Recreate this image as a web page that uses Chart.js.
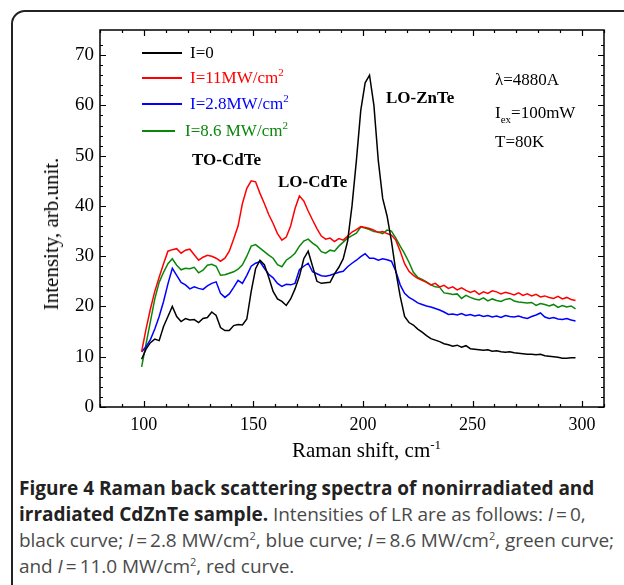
<!DOCTYPE html>
<html>
<head>
<meta charset="utf-8">
<script src="https://cdn.jsdelivr.net/npm/chart.js@4.4.0/dist/chart.umd.min.js"></script>
<style>
  body { margin: 0; background: #fff; width: 624px; height: 585px; overflow: hidden; position: relative; }
  #box { position: absolute; left: 11px; top: 10px; width: 700px; height: 700px; border: 2px solid #222; border-radius: 14px; }
  #wrap { position: absolute; left: 0; top: 0; width: 624px; height: 470px; }
  .t { position: absolute; font-family: "Liberation Serif", serif; font-size: 17px; line-height: 17px; white-space: nowrap; }
  .t sup, .t sub { font-size: 11px; line-height: 0; }
  .t sub { vertical-align: -5px; }
  .b { font-weight: bold; }
  .leg { position: absolute; height: 0; border-top: 2px solid; }
  #ytitle { position: absolute; left: 62px; top: 234px; transform-origin: 0 0; transform: rotate(-90deg) translate(-50%, -100%);
    font-family: "Liberation Serif", serif; font-size: 21px; line-height: 21px; white-space: nowrap; }
  #xtitle { position: absolute; left: 292px; top: 440px; font-family: "Liberation Serif", serif; font-size: 21px; line-height: 21px; white-space: nowrap; }
  #xtitle sup { font-size: 13px; line-height: 0; }
  #caption { position: absolute; left: 19px; top: 475px; font-family: "Open Sans", sans-serif; font-size: 19px;
    line-height: 26px; color: #4a4a4a; white-space: nowrap; letter-spacing: -0.05px; }
  #caption b { color: #222; letter-spacing: 0; }
  #caption sup { font-size: 11px; line-height: 0; }
</style>
</head>
<body>
<div id="box"></div>
<div id="wrap"><canvas id="chart" width="624" height="470"></canvas></div>

<div class="leg" style="left:142px; top:52px; width:40px; border-color:#000"></div>
<div class="t" style="left:190px; top:44px; color:#000">I=0</div>
<div class="leg" style="left:142px; top:77px; width:40px; border-color:#f00"></div>
<div class="t" style="left:190px; top:69px; color:#f00">I=11MW/cm<sup>2</sup></div>
<div class="leg" style="left:142px; top:103px; width:40px; border-color:#00f"></div>
<div class="t" style="left:190px; top:95px; color:#00f">I=2.8MW/cm<sup>2</sup></div>
<div class="leg" style="left:142px; top:130px; width:33px; border-color:#0a870a"></div>
<div class="t" style="left:185px; top:122px; color:#0a870a">I=8.6 MW/cm<sup>2</sup></div>

<div class="t b" style="left:192px; top:151px">TO-CdTe</div>
<div class="t b" style="left:278px; top:173px">LO-CdTe</div>
<div class="t b" style="left:386px; top:89px">LO-ZnTe</div>
<div class="t" style="left:495px; top:71px">λ=4880A</div>
<div class="t" style="left:495px; top:104px">I<sub>ex</sub>=100mW</div>
<div class="t" style="left:495px; top:133px">T=80K</div>

<div id="ytitle">Intensity, arb.unit.</div>
<div id="xtitle">Raman shift, cm<sup>-1</sup></div>

<div id="caption"><b>Figure 4 Raman back scattering spectra of nonirradiated and</b><br><b>irradiated CdZnTe sample.</b> Intensities of LR are as follows: <i>I</i>&#8201;=&#8201;0,<br>black curve; <i>I</i>&#8201;=&#8201;2.8 MW/cm<sup>2</sup>, blue curve; <i>I</i>&#8201;=&#8201;8.6 MW/cm<sup>2</sup>, green curve;<br>and <i>I</i>&#8201;=&#8201;11.0 MW/cm<sup>2</sup>, red curve.</div>

<script>
const ramanShift = [
  99, 101, 103, 105, 107, 109, 111, 113, 115, 117, 119, 121, 123, 125, 127, 129, 131, 133, 135, 137,
  139, 141, 143, 145, 147, 149, 151, 153, 155, 157, 159, 161, 163, 165, 167, 169, 171, 173, 175, 177,
  179, 181, 183, 185, 187, 189, 191, 193, 195, 197, 199, 201, 203, 205, 207, 209, 211, 213, 215, 217,
  219, 221, 223, 225, 227, 229, 231, 233, 235, 237, 239, 241, 243, 245, 247, 249, 251, 253, 255, 257,
  259, 261, 263, 265, 267, 269, 271, 273, 275, 277, 279, 281, 283, 285, 287, 289, 291, 293, 295, 297
];

const intensity0 = [
  9.5, 11.5, 12.8, 13.5, 13.2, 16, 18, 20, 18, 17, 17.6, 17.3, 17.4, 16.8, 17.6, 17.8, 18.9, 18.2, 15.8, 15.2,
  15.2, 16.2, 16.4, 16.3, 17.5, 23, 27.5, 29.2, 28.3, 25.8, 23, 21.5, 21, 20.2, 21.5, 23.5, 26, 29.5, 31, 28,
  25, 24.6, 24.7, 24.8, 26.5, 27.8, 29.5, 33, 40, 49, 59, 64.5, 66, 60, 49, 41.5, 38, 33, 27, 22,
  18, 16.8, 16.3, 15.5, 14.9, 14.2, 13.6, 13.3, 13.0, 12.6, 12.4, 12.1, 12.3, 11.9, 12.2, 11.6, 11.5, 11.4, 11.3, 11.4,
  11.1, 11.2, 11.0, 10.9, 11.0, 10.8, 10.7, 10.6, 10.5, 10.5, 10.4, 10.5, 10.2, 10.1, 10.0, 9.9, 9.7, 9.7, 9.8, 9.8
];

const intensity11 = [
  11, 15.5, 19.5, 23, 25.8, 28.5, 31, 31.3, 31.5, 30.6, 31.2, 31.4, 30.3, 29.2, 29.8, 30.2, 30, 29.6, 29, 29.6,
  31, 33.4, 36, 40.5, 43.5, 45, 44.8, 42.5, 40.5, 38.3, 36.5, 34.5, 33.2, 33.8, 36, 39.5, 42, 41, 39, 37.2,
  35.5, 34, 33.4, 33.6, 32.9, 33.5, 33.2, 34, 34.8, 35.3, 35.9, 35.7, 35.5, 35.2, 34.7, 34.9, 34.5, 34.2, 33.2, 31,
  28.5, 27, 26.2, 25.6, 25.2, 24.8, 24.3, 24.6, 23.9, 24.2, 23.6, 23.9, 23.3, 23.7, 23.2, 22.8, 23.1, 22.4, 22.9, 22.6,
  23.1, 22.9, 22.5, 22.8, 22.6, 22.3, 22.7, 22.2, 22.5, 22.1, 22.4, 21.9, 22.1, 21.8, 21.6, 22.0, 21.5, 21.8, 21.4, 21.2
];

const intensity28 = [
  11, 12, 13.4, 15.5, 18, 21, 24.5, 27.6, 26.2, 24.8, 24.3, 23.5, 23.9, 23.6, 23.4, 24.1, 24.6, 24.9, 22.6, 21.8,
  22.5, 23.8, 25.2, 24.6, 26.2, 28, 28.6, 28.9, 27.6, 26.4, 25.7, 24.6, 24, 24.4, 24.3, 24.6, 27.3, 28, 28.6, 26.9,
  26.5, 26.1, 26, 26.2, 26.5, 26.8, 27, 27.9, 28.6, 29.2, 29.9, 30.5, 29.6, 29.6, 29.2, 29.5, 29.3, 29, 27, 24.3,
  22.6, 21.8, 21.3, 20.7, 20.4, 20.1, 19.9, 19.6, 19.3, 18.9, 18.4, 18.5, 18.3, 18.6, 18.2, 18.4, 18.1, 18.3, 18.0, 18.2,
  17.9, 18.1, 17.8, 18.2, 18.0, 17.9, 18.1, 17.8, 17.6, 18.0, 18.3, 18.7, 17.9, 17.6, 17.8, 17.5, 17.4, 17.6, 17.3, 17.1
];

const intensity86 = [
  8, 12.5, 17, 21.5, 24.8, 26.8, 28.5, 29.5, 28.2, 27.3, 27.6, 27.5, 27.8, 26.7, 27.2, 28.2, 28.4, 28, 26.2, 26.3,
  26.6, 26.9, 27.4, 28.3, 30, 32, 32.3, 31.6, 30.9, 30.2, 29.6, 28.3, 27.9, 29.2, 29.8, 30.6, 32, 33, 33.4, 32.6,
  32.0, 30.9, 30.6, 31.2, 31, 32, 32.8, 33.6, 34.1, 34.6, 35.8, 35.6, 35.3, 34.9, 34.8, 34.5, 35.2, 35.0, 33.6, 32,
  30.5, 28.8, 26.8, 25.8, 25.4, 24.9, 24.3, 23.9, 23.8, 22.7, 22.6, 22.4, 22.5, 21.6, 22.2, 21.8, 21.5, 21.3, 21.7, 21.1,
  21.5, 21.2, 21.0, 21.4, 21.6, 21.1, 20.9, 20.8, 20.7, 20.8, 20.2, 20.6, 20.4, 20.1, 20.4, 19.8, 20.2, 19.9, 20.1, 19.5
];

const seriesNames = ["I=0", "I=11MW/cm2", "I=2.8MW/cm2", "I=8.6 MW/cm2"];
const seriesColors = ["#000000", "#ff0000", "#0000ff", "#0a870a"];

const toPoints = (ys) => ramanShift.map((x, i) => ({ x, y: ys[i] }));

// frame + inward ticks on all four sides, like the origin plot
const frameTicks = {
  id: "frameTicks",
  afterDraw(chart) {
    const { ctx, chartArea: a, scales } = chart;
    ctx.save();
    ctx.strokeStyle = "#000";
    ctx.lineWidth = 1.5;
    ctx.strokeRect(a.left, a.top, a.right - a.left, a.bottom - a.top);
    ctx.lineWidth = 1.2;
    ctx.beginPath();
    for (const t of scales.x.ticks) {
      const len = t.value % 50 === 0 ? 6 : 3;
      const px = Math.round(scales.x.getPixelForValue(t.value)) + 0.5;
      ctx.moveTo(px, a.bottom); ctx.lineTo(px, a.bottom - len);
      ctx.moveTo(px, a.top); ctx.lineTo(px, a.top + len);
    }
    for (const t of scales.y.ticks) {
      if (t.value % 2 !== 0) continue;
      const len = t.value % 10 === 0 ? 6 : 3;
      const py = Math.round(scales.y.getPixelForValue(t.value)) + 0.5;
      ctx.moveTo(a.left, py); ctx.lineTo(a.left + len, py);
      ctx.moveTo(a.right, py); ctx.lineTo(a.right - len, py);
    }
    ctx.stroke();
    ctx.restore();
  },
};

new Chart(document.getElementById("chart"), {
  type: "line",
  data: {
    datasets: [intensity0, intensity11, intensity28, intensity86].map((ys, i) => ({
      label: seriesNames[i],
      data: toPoints(ys),
      borderColor: seriesColors[i],
      borderWidth: 1.5,
      pointRadius: 0,
      tension: 0,
      fill: false,
    })),
  },
  options: {
    responsive: false,
    animation: false,
    devicePixelRatio: 1,
    layout: { padding: { left: 0, right: 20, top: 30, bottom: 0 } },
    plugins: { legend: { display: false }, tooltip: { enabled: false } },
    scales: {
      x: {
        type: "linear",
        min: 80,
        max: 310,
        afterFit: (s) => { s.height = 63; },
        grid: { display: false, drawTicks: false },
        border: { display: false },
        ticks: {
          stepSize: 10,
          autoSkip: false,
          maxRotation: 0,
          padding: 7,
          color: "#000",
          font: { family: "Liberation Serif", size: 18 },
          callback: (v) => (v % 50 === 0 ? v : ""),
        },
      },
      y: {
        min: 0,
        max: 75,
        afterFit: (s) => { s.width = 100; },
        grid: { display: false, drawTicks: false },
        border: { display: false },
        ticks: {
          stepSize: 2,
          autoSkip: false,
          padding: 6,
          color: "#000",
          font: { family: "Liberation Serif", size: 19 },
          callback: (v) => (v % 10 === 0 ? v : ""),
        },
      },
    },
  },
  plugins: [frameTicks],
});
</script>
</body>
</html>
